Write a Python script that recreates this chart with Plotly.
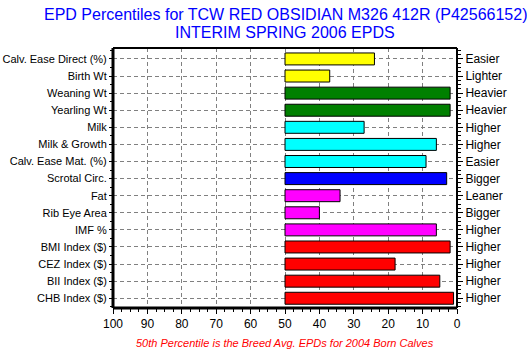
import plotly.graph_objects as go

traits = ["Calv. Ease Direct (%)", "Birth Wt", "Weaning Wt", "Yearling Wt", "Milk",
          "Milk & Growth", "Calv. Ease Mat. (%)", "Scrotal Circ.", "Fat", "Rib Eye Area",
          "IMF %", "BMI Index ($)", "CEZ Index ($)", "BII Index ($)", "CHB Index ($)"]
percentiles = [24, 37, 2, 2, 27, 6, 9, 3, 34, 40, 6, 2, 18, 5, 1]
directions = ["Easier", "Lighter", "Heavier", "Heavier", "Higher", "Higher", "Easier",
              "Bigger", "Leaner", "Bigger", "Higher", "Higher", "Higher", "Higher", "Higher"]
colors = ["#FFFF00", "#FFFF00", "#008000", "#008000", "#00FFFF", "#00FFFF", "#00FFFF",
          "#0000FF", "#FF00FF", "#FF00FF", "#FF00FF", "#FF0000", "#FF0000", "#FF0000", "#FF0000"]
breed_avg = 50
x_ticks = [100, 90, 80, 70, 60, 50, 40, 30, 20, 10, 0]
title_lines = ["EPD Percentiles for TCW RED OBSIDIAN M326 412R (P42566152)", "INTERIM SPRING 2006 EPDS"]

pos = list(range(len(traits)))
fig = go.Figure()
fig.add_trace(go.Bar(
    y=pos, x=[p - breed_avg for p in percentiles], base=breed_avg,
    orientation="h", width=0.7,
    marker=dict(color=colors, line=dict(color="black", width=1)),
    showlegend=False, hoverinfo="skip"))
fig.add_trace(go.Scatter(y=pos, x=[breed_avg] * len(pos), yaxis="y2", mode="markers",
                         marker=dict(opacity=0), showlegend=False, hoverinfo="skip"))

W, H = 527, 350
L, R, T, B = 113, 70, 48, 42
ph = H - T - B
yr = [len(traits) - 1 + 0.57, -0.64]
grid = dict(showgrid=True, gridcolor="#808080", gridwidth=1, griddash="4px,3px")
fig.update_layout(
    width=W, height=H,
    margin=dict(l=L, r=R, t=T, b=B, autoexpand=False),
    paper_bgcolor="white", plot_bgcolor="white",
    font=dict(family="Liberation Sans, Arial", size=11, color="black"),
    xaxis=dict(range=[100, 0], tickvals=x_ticks, ticks="outside", ticklen=5, tickwidth=1,
               tickcolor="black", zeroline=False, showline=False, automargin=False,
               minor=dict(dtick=2.5, ticks="outside", ticklen=3, tickcolor="black", showgrid=False),
               tickfont=dict(size=12), **grid),
    yaxis=dict(range=yr, tickvals=pos, ticktext=traits, ticks="outside", ticklen=3,
               tickcolor="black", zeroline=False, showline=False, automargin=False,
               minor=dict(dtick=0.5, ticks="outside", ticklen=2, tickcolor="black", showgrid=False),
               **grid),
    yaxis2=dict(range=yr, tickvals=pos, ticktext=directions, overlaying="y", side="right",
                ticks="outside", ticklen=5, tickcolor="black", showgrid=False, zeroline=False,
                automargin=False,
                minor=dict(dtick=0.25, ticks="outside", ticklen=3, tickcolor="black"),
                tickfont=dict(size=12)),
    shapes=[
        dict(type="line", xref="paper", yref="paper", x0=0, x1=0, y0=0, y1=1, line=dict(color="black", width=3)),
        dict(type="line", xref="paper", yref="paper", x0=0, x1=1, y0=0, y1=0, line=dict(color="black", width=3)),
        dict(type="line", xref="paper", yref="paper", x0=0, x1=1, y0=1, y1=1, line=dict(color="black", width=2)),
        dict(type="line", xref="paper", yref="paper", x0=1, x1=1, y0=0, y1=1, line=dict(color="black", width=2)),
    ],
    annotations=[
        dict(text=title_lines[0], xref="paper", yref="paper", x=0.5, y=1 + (T - 14) / ph,
             xanchor="center", yanchor="middle", showarrow=False,
             font=dict(size=16, color="#0000FF")),
        dict(text=title_lines[1], xref="paper", yref="paper", x=0.5, y=1 + (T - 32) / ph,
             xanchor="center", yanchor="middle", showarrow=False,
             font=dict(size=16, color="#0000FF")),
        dict(text="<i>50th Percentile is the Breed Avg. EPDs for 2004 Born Calves</i>",
             xref="paper", yref="paper", x=0.5, y=-35 / ph, xanchor="center", yanchor="middle",
             showarrow=False, font=dict(size=11, color="#FF0000")),
    ],
)
fig.write_html("out.html")
